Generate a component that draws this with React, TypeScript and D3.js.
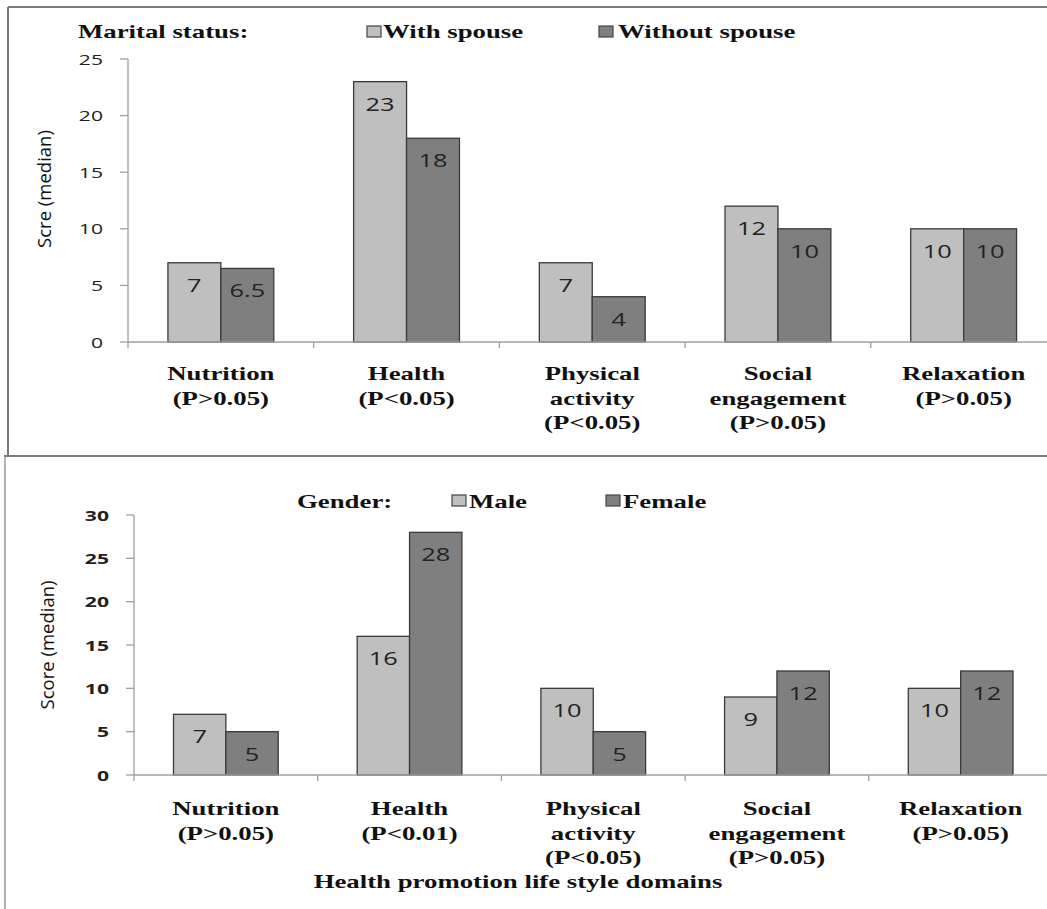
import React from "react";
import * as d3 from "d3";

// ---- data ----
const domains = ["Nutrition", "Health", "Physical activity", "Social engagement", "Relaxation"];

const withSpouse = [7, 23, 7, 12, 10];
const withoutSpouse = [6.5, 18, 4, 10, 10];
const maritalLabels = [
  ["Nutrition", "(P>0.05)"],
  ["Health", "(P<0.05)"],
  ["Physical", "activity", "(P<0.05)"],
  ["Social", "engagement", "(P>0.05)"],
  ["Relaxation", "(P>0.05)"],
];

const male = [7, 16, 10, 9, 10];
const female = [5, 28, 5, 12, 12];
const genderLabels = [
  ["Nutrition", "(P>0.05)"],
  ["Health", "(P<0.01)"],
  ["Physical", "activity", "(P<0.05)"],
  ["Social", "engagement", "(P>0.05)"],
  ["Relaxation", "(P>0.05)"],
];

const topTicks = [0, 5, 10, 15, 20, 25];
const bottomTicks = [0, 5, 10, 15, 20, 25, 30];

// the original picture is stretched sideways, so text is too
const SX = 1.41;
const LIGHT = "#bfbfbf";
const DARK = "#7f7f7f";
const SERIF = "'Liberation Serif', 'Times New Roman', serif";
const SANS = "'Open Sans', 'Liberation Sans', sans-serif";

const WideText = ({ x, y, anchor = "start", size = 19, bold = true, font = SERIF, fill = "#111", children }: any) => (
  <text
    transform={`translate(${x},${y}) scale(${SX},1)`}
    textAnchor={anchor}
    fontFamily={font}
    fontSize={size}
    fontWeight={bold ? "bold" : "normal"}
    fill={fill}
  >
    {children}
  </text>
);

interface PanelProps {
  a: number[];
  b: number[];
  labels: string[][];
  ticks: number[];
  yMax: number;
  x0: number;
  step: number;
  yBase: number;
  yTop: number;
  labelY: number;
  boldTicks: boolean;
  yTitle: string;
  yTitleX: number;
  yTitleY: number;
}

const Panel = (p: PanelProps) => {
  const x = d3
    .scaleBand<string>()
    .domain(domains)
    .range([p.x0, p.x0 + p.step * domains.length])
    .paddingInner(0.43)
    .paddingOuter(0.215);
  const xs = d3.scaleBand<string>().domain(["a", "b"]).range([0, x.bandwidth()]);
  const y = d3.scaleLinear().domain([0, p.yMax]).range([p.yBase, p.yTop]);
  const bounds = d3.range(domains.length + 1).map((i) => p.x0 + i * p.step);

  return (
    <g>
      {/* y axis */}
      <line x1={p.x0} x2={p.x0} y1={p.yBase} y2={y(p.yMax)} stroke="#a0a0a0" strokeWidth={1.3} />
      {p.ticks.map((t) => (
        <g key={t}>
          <line x1={p.x0 - 8} x2={p.x0} y1={y(t)} y2={y(t)} stroke="#a0a0a0" strokeWidth={1.3} />
          <WideText x={p.x0 - 25} y={y(t) + 5.5} anchor="end" size={15} font={SANS} bold={p.boldTicks} fill="#222">
            {t}
          </WideText>
        </g>
      ))}
      <text
        transform={`translate(${p.yTitleX},${p.yTitleY}) rotate(-90)`}
        textAnchor="middle"
        fontFamily={SANS}
        fontSize={18.5}
        fill="#111"
      >
        {p.yTitle}
      </text>

      {/* bars */}
      {domains.map((d, i) =>
        [
          { k: "a", v: p.a[i], c: LIGHT },
          { k: "b", v: p.b[i], c: DARK },
        ].map((s) => {
          const bx = x(d)! + xs(s.k)!;
          const w = xs.bandwidth();
          return (
            <g key={d + s.k}>
              <rect x={bx} y={y(s.v)} width={w} height={p.yBase - y(s.v)} fill={s.c} stroke="#3a3a3a" strokeWidth={1.3} />
              <WideText x={bx + w / 2} y={y(s.v) + 29} anchor="middle" size={18} font={SANS} bold={false} fill="#222">
                {s.v}
              </WideText>
            </g>
          );
        })
      )}

      {/* x axis */}
      <line x1={p.x0} x2={1047} y1={p.yBase} y2={p.yBase} stroke="#a0a0a0" strokeWidth={1.3} />
      {bounds.map((bx) => (
        <line key={bx} x1={bx} x2={bx} y1={p.yBase} y2={p.yBase + 6} stroke="#a0a0a0" strokeWidth={1.3} />
      ))}
      {domains.map((d, i) =>
        p.labels[i].map((ln, j) => (
          <WideText key={d + j} x={x(d)! + x.bandwidth() / 2} y={p.labelY + j * 24.5} anchor="middle">
            {ln}
          </WideText>
        ))
      )}
    </g>
  );
};

const Swatch = ({ x, y, fill }: any) => (
  <rect x={x} y={y} width={14} height={11} fill={fill} stroke="#444" strokeWidth={1.2} />
);

export default function App() {
  return (
    <svg width={1047} height={909} style={{ position: "absolute", left: 0, top: 0, background: "#fff" }}>
      <rect x={0} y={0} width={1047} height={909} fill="#fff" />
      {/* frames */}
      <line x1={8} x2={1047} y1={7} y2={7} stroke="#7a7a7a" strokeWidth={2} />
      <line x1={8} x2={8} y1={7} y2={456} stroke="#7a7a7a" strokeWidth={2} />
      <line x1={4} x2={1047} y1={456} y2={456} stroke="#7a7a7a" strokeWidth={2} />
      <line x1={5} x2={5} y1={456} y2={909} stroke="#9a9a9a" strokeWidth={1.5} />

      {/* top panel: marital status */}
      <WideText x={78} y={38}>Marital status:</WideText>
      <Swatch x={367} y={26} fill={LIGHT} />
      <WideText x={383} y={38}>With spouse</WideText>
      <Swatch x={599} y={26} fill={DARK} />
      <WideText x={618} y={38}>Without spouse</WideText>
      <Panel
        a={withSpouse}
        b={withoutSpouse}
        labels={maritalLabels}
        ticks={topTicks}
        yMax={25}
        x0={128}
        step={185.7}
        yBase={342}
        yTop={59}
        labelY={380}
        boldTicks={false}
        yTitle="Scre (median)"
        yTitleX={51}
        yTitleY={189}
      />

      {/* bottom panel: gender */}
      <WideText x={297} y={508}>Gender:</WideText>
      <Swatch x={452} y={495} fill={LIGHT} />
      <WideText x={469} y={508}>Male</WideText>
      <Swatch x={606} y={495} fill={DARK} />
      <WideText x={623} y={508}>Female</WideText>
      <Panel
        a={male}
        b={female}
        labels={genderLabels}
        ticks={bottomTicks}
        yMax={30}
        x0={134}
        step={183.7}
        yBase={775}
        yTop={515}
        labelY={815}
        boldTicks={true}
        yTitle="Score (median)"
        yTitleX={54}
        yTitleY={645}
      />
      <WideText x={518} y={888} anchor="middle">Health promotion life style domains</WideText>
    </svg>
  );
}
